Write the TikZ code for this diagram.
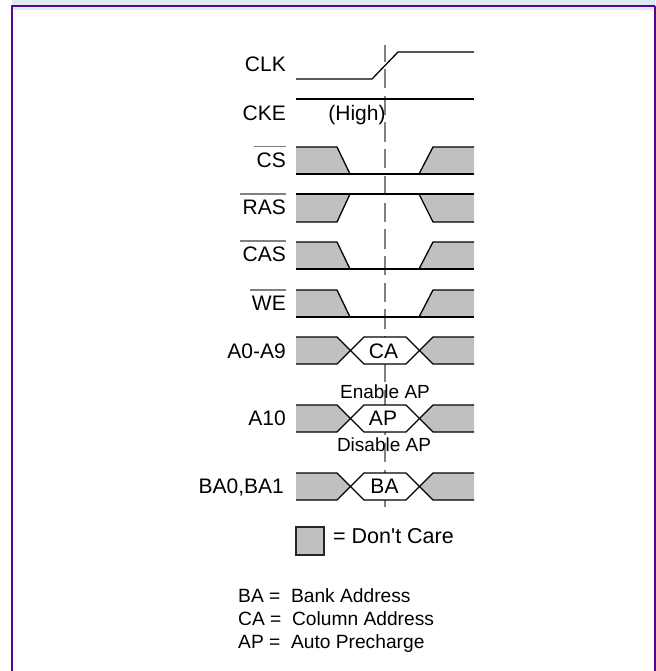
\documentclass[tikz,border=0pt]{standalone}
\usepackage{fontspec}
\setmainfont{Liberation Sans}
\tikzset{
  sigl/.style={anchor=east, inner xsep=0pt, inner ysep=0pt, minimum height=27pt, text height=14.5pt, text depth=0pt, font=\fontsize{21}{25}\selectfont},
  busl/.style={inner sep=0pt, text height=14.5pt, text depth=0pt, font=\fontsize{21}{25}\selectfont},
  note/.style={inner sep=0pt, font=\fontsize{19}{23}\selectfont},
  keyl/.style={anchor=base west, inner sep=0pt, font=\fontsize{19.2}{23}\selectfont},
  wave/.style={draw=black, line width=1.3pt, line join=miter},
  dontcare/.style={fill=careGray},
  barl/.style={draw=barGray, line width=1.4pt},
  edgel/.style={draw=frameViolet, line width=2pt}
}
\definecolor{careGray}{HTML}{C0C0C0}
\definecolor{barGray}{HTML}{808080}
\definecolor{frameViolet}{HTML}{55088A}
\definecolor{bandBlue}{HTML}{DCEAF3}
\begin{document}
\begin{tikzpicture}[x=1pt, y=-1pt]
  \useasboundingbox (0,0) rectangle (655,671);
  % frame
  \fill[bandBlue] (12,0) rectangle (655,10);
  \draw[edgel] (12,671) -- (12,6) -- (655,6);
  \draw[edgel] (655,6) -- (655,671);

  % clock edge marker
  \draw[barl, dash pattern=on 19.2pt off 7.5pt, dash phase=2.6pt] (385,45) -- (385,507);

  % labels
  \node[sigl] (clkl) at (286,64){CLK};
  \node[sigl] (ckel) at (286,113){CKE};
  \node[sigl] (csl) at (286,160.5){CS};
  \node[sigl] (rasl) at (286,207.5){RAS};
  \node[sigl] (casl) at (286,254.5){CAS};
  \node[sigl] (wel) at (286,303.5){WE};
  \node[sigl] (addrl) at (286,351){A0-A9};
  \node[sigl] (aptenl) at (286,418.5){A10};
  \node[sigl] (bankl) at (284,486){BA0,BA1};
  \draw[barl] ([xshift=-2pt]csl.north west) -- (csl.north east);
  \draw[barl] ([xshift=-2pt]rasl.north west) -- (rasl.north east);
  \draw[barl] ([xshift=-2pt]casl.north west) -- (casl.north east);
  \draw[barl] ([xshift=-2pt]wel.north west) -- (wel.north east);

  % CLK, CKE
  \draw[wave] (296,79) -- (372,79) -- (398,52) -- (474,52);
  \draw[wave] (296,99) -- (474,99);
  \node[busl] (highl) at (357,113){(High)};

  % CS
  \fill[dontcare] (296,147) -- (337,147) -- (350,174) -- (296,174) -- cycle;
  \fill[dontcare] (474,147) -- (433,147) -- (419,174) -- (474,174) -- cycle;
  \draw[wave] (296,147) -- (337,147) -- (350,174);
  \draw[wave] (474,147) -- (433,147) -- (419,174);
  \draw[wave] (296,174) -- (474,174);

  % RAS
  \fill[dontcare] (296,222) -- (337,222) -- (350,194) -- (296,194) -- cycle;
  \fill[dontcare] (474,222) -- (433,222) -- (419,194) -- (474,194) -- cycle;
  \draw[wave] (296,222) -- (337,222) -- (350,194);
  \draw[wave] (474,222) -- (433,222) -- (419,194);
  \draw[wave] (296,194) -- (474,194);

  % CAS
  \fill[dontcare] (296,242) -- (337,242) -- (350,269) -- (296,269) -- cycle;
  \fill[dontcare] (474,242) -- (433,242) -- (419,269) -- (474,269) -- cycle;
  \draw[wave] (296,242) -- (337,242) -- (350,269);
  \draw[wave] (474,242) -- (433,242) -- (419,269);
  \draw[wave] (296,269) -- (474,269);

  % WE
  \fill[dontcare] (296,290) -- (337,290) -- (350,317) -- (296,317) -- cycle;
  \fill[dontcare] (474,290) -- (433,290) -- (419,317) -- (474,317) -- cycle;
  \draw[wave] (296,290) -- (337,290) -- (350,317);
  \draw[wave] (474,290) -- (433,290) -- (419,317);
  \draw[wave] (296,317) -- (474,317);

  % A0-A9
  \fill[dontcare] (296,337) -- (337,337) -- (350.5,350.5) -- (337,364) -- (296,364) -- cycle;
  \fill[dontcare] (474,337) -- (433,337) -- (419.5,350.5) -- (433,364) -- (474,364) -- cycle;
  \fill[white] (350.5,350.5) -- (364,337) -- (406,337) -- (419.5,350.5) -- (406,364) -- (364,364) -- cycle;
  \draw[wave] (296,337) -- (337,337) -- (364,364) -- (406,364) -- (433,337) -- (474,337);
  \draw[wave] (296,364) -- (337,364) -- (364,337) -- (406,337) -- (433,364) -- (474,364);
  \node[busl] (cal) at (383.5,351){CA};

  % A10
  \node[note] (enl) at (385,391.5){Enable AP};
  \fill[dontcare] (296,405) -- (337,405) -- (350.5,418.5) -- (337,432) -- (296,432) -- cycle;
  \fill[dontcare] (474,405) -- (433,405) -- (419.5,418.5) -- (433,432) -- (474,432) -- cycle;
  \fill[white] (350.5,418.5) -- (364,405) -- (406,405) -- (419.5,418.5) -- (406,432) -- (364,432) -- cycle;
  \draw[wave] (296,405) -- (337,405) -- (364,432) -- (406,432) -- (433,405) -- (474,405);
  \draw[wave] (296,432) -- (337,432) -- (364,405) -- (406,405) -- (433,432) -- (474,432);
  \node[busl] (apl) at (383,418.5){AP};
  \node[note] (disl) at (384,445){Disable AP};

  % BA0,BA1
  \fill[dontcare] (296,473) -- (337,473) -- (350.5,486.5) -- (337,500) -- (296,500) -- cycle;
  \fill[dontcare] (474,473) -- (433,473) -- (419.5,486.5) -- (433,500) -- (474,500) -- cycle;
  \fill[white] (350.5,486.5) -- (364,473) -- (406,473) -- (419.5,486.5) -- (406,500) -- (364,500) -- cycle;
  \draw[wave] (296,473) -- (337,473) -- (364,500) -- (406,500) -- (433,473) -- (474,473);
  \draw[wave] (296,500) -- (337,500) -- (364,473) -- (406,473) -- (433,500) -- (474,500);
  \node[busl] (bal) at (384.5,486.5){BA};

  % legend
  \filldraw[dontcare, draw=black!85, line width=1.3pt] (296,527) rectangle (324,555);
  \node[keyl, font=\fontsize{21.5}{25}\selectfont] (carel) at (333,543.5){= Don\textquotesingle t Care};
  \node[keyl] (bakey) at (238,602){BA =\ \ Bank Address};
  \node[keyl] (cakey) at (238,625){CA =\ \ Column Address};
  \node[keyl] (apkey) at (238,648){AP =\ \ Auto Precharge};
\end{tikzpicture}
\end{document}
